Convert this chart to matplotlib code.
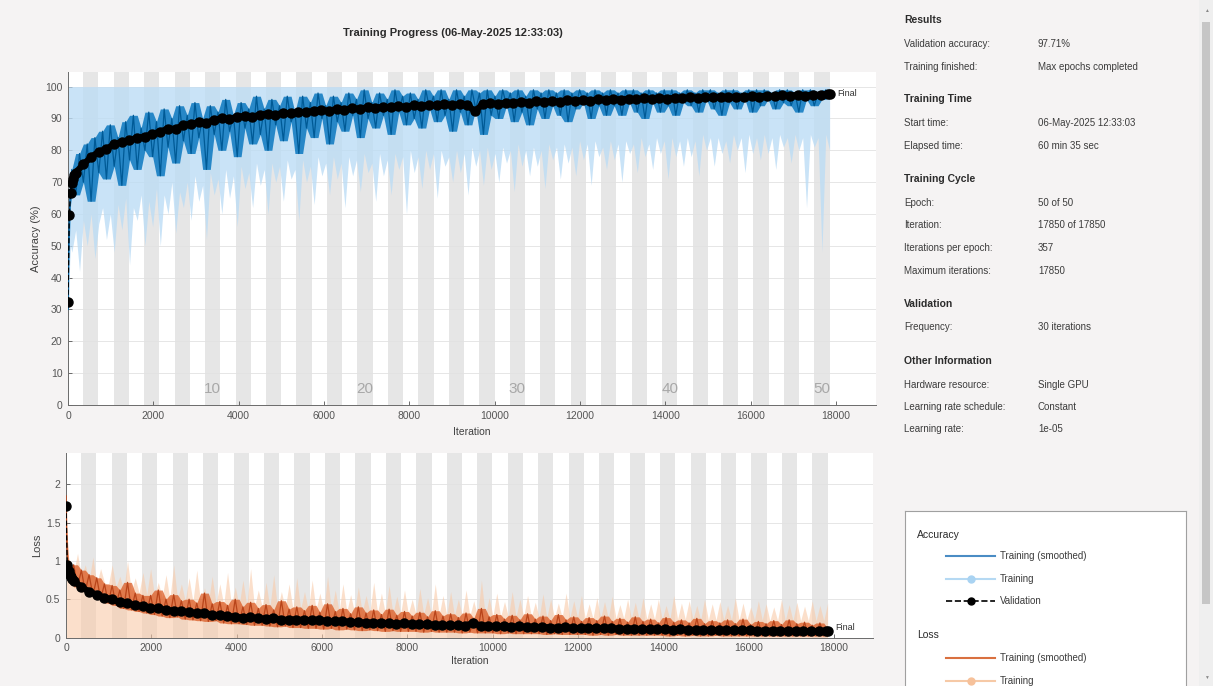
import numpy as np
import matplotlib
matplotlib.use("Agg")
import matplotlib.pyplot as plt
import matplotlib.transforms as mtransforms
from matplotlib.patches import Rectangle

plt.rcParams['font.family'] = ['Liberation Sans', 'DejaVu Sans']

W, H = 1213, 686
ITERS_PER_EPOCH = 357
NUM_EPOCHS = 50
MAX_ITER = 17850

# ---------------------------------------------------------------- data
# first few logged iterations (kept individually, the curves move fast here)
early_iter = [1, 10, 20, 40, 60]

# training accuracy (smoothed), iterations 90 .. 17850
acc_smooth_early = [30, 45, 55, 63, 68]
acc_smooth = [
    74, 66, 79, 70, 82, 64, 84, 73, 86, 71,
    88, 75, 84, 69, 89, 77, 91, 74, 87, 80,
    92, 78, 89, 72, 93, 81, 90, 76, 94, 83,
    91, 79, 95, 84, 90, 74, 94, 85, 92, 80,
    96, 86, 91, 78, 95, 87, 93, 82, 97, 85,
    93, 80, 96, 88, 94, 83, 97, 89, 92, 79,
    97, 87, 95, 84, 98, 90, 94, 82, 97, 89,
    95, 86, 98, 91, 96, 84, 99, 90, 95, 87,
    98, 91, 96, 85, 99, 92, 97, 88, 98, 90,
    96, 87, 99, 93, 97, 89, 99, 91, 96, 86,
    99, 92, 97, 88, 99, 93, 98, 85, 99, 91,
    97, 90, 99, 94, 98, 89, 99, 92, 97, 88,
    99, 93, 98, 90, 99, 94, 98, 91, 99, 89,
    98, 93, 99, 95, 98, 90, 99, 94, 98, 91,
    99, 94, 98, 91, 99, 95, 99, 92, 98, 90,
    99, 95, 98, 92, 99, 94, 99, 91, 98, 95,
    99, 94, 98, 92, 99, 96, 99, 93, 98, 91,
    99, 95, 99, 93, 98, 96, 99, 92, 99, 94,
    99, 96, 98, 93, 99, 95, 99, 94, 98, 92,
    99, 96, 99, 94, 98, 96, 99, 97,
]

# training accuracy (per mini-batch): lower edge of the band, top is 100 %
acc_raw_early = [10, 25, 35, 45, 50]
acc_raw_low = [
    48, 55, 42, 58, 50, 60, 46, 57, 62, 52,
    60, 48, 63, 55, 65, 44, 62, 58, 66, 50,
    64, 56, 68, 50, 66, 60, 70, 54, 67, 62,
    70, 58, 72, 64, 69, 52, 73, 66, 71, 60,
    74, 65, 72, 56, 75, 68, 73, 62, 76, 69,
    74, 60, 76, 70, 75, 64, 77, 71, 74, 58,
    77, 70, 75, 63, 78, 72, 76, 66, 78, 71,
    76, 62, 78, 72, 77, 67, 79, 73, 76, 64,
    79, 72, 77, 66, 79, 74, 78, 60, 80, 73,
    78, 68, 80, 74, 79, 65, 80, 75, 78, 70,
    80, 73, 79, 66, 81, 75, 80, 69, 81, 74,
    79, 70, 81, 76, 80, 67, 82, 75, 80, 72,
    81, 75, 80, 68, 82, 77, 81, 71, 82, 76,
    81, 72, 83, 77, 82, 69, 83, 78, 81, 74,
    83, 77, 82, 70, 83, 79, 82, 73, 84, 78,
    82, 74, 84, 79, 83, 71, 84, 78, 83, 75,
    84, 78, 83, 72, 85, 80, 84, 75, 84, 79,
    83, 76, 85, 80, 84, 73, 85, 79, 84, 77,
    85, 79, 84, 74, 85, 81, 84, 76, 85, 80,
    84, 62, 85, 81, 84, 48, 85, 80,
]

# validation accuracy
val_iter_early = [0, 30, 60, 90, 120, 150]
val_acc_early = [32.3, 59.8, 66.5, 69.8, 71.0, 72.2]
VAL_STEP = 180
val_acc = [
    73.0, 75.6, 77.8, 79.6, 80.4, 81.9, 82.6, 83.1, 84.0, 84.3,
    85.2, 85.8, 86.8, 86.7, 87.9, 88.3, 88.8, 88.5, 89.6, 90.0,
    89.8, 90.5, 90.8, 90.5, 91.2, 91.5, 91.1, 91.8, 91.6, 92.1,
    91.9, 92.4, 92.7, 92.3, 93.0, 92.8, 93.2, 93.0, 93.5, 93.3,
    93.7, 93.5, 93.9, 93.6, 94.1, 93.9, 94.3, 94.1, 94.5, 94.2,
    94.5, 94.3, 92.2, 94.6, 94.8, 94.5, 95.0, 94.8, 95.2, 95.0,
    95.4, 95.1, 95.5, 95.3, 95.7, 95.5, 95.8, 95.6, 96.0, 95.8,
    96.1, 95.9, 96.2, 96.0, 96.3, 96.1, 96.4, 96.2, 96.5, 96.3,
    96.6, 96.4, 96.7, 96.6, 96.8, 96.6, 96.9, 96.8, 97.0, 96.9,
    97.1, 97.0, 97.3, 97.1, 97.4, 97.2, 97.5, 97.4, 97.6,
]
final_val_acc = 97.71

# training loss (smoothed)
loss_smooth_early = [1.85, 1.45, 1.2, 1.0, 0.92]
loss_smooth = [
    0.78, 0.95, 0.66, 0.88, 0.60, 0.82, 0.55, 0.78, 0.50, 0.70,
    0.45, 0.68, 0.42, 0.62, 0.38, 0.72, 0.36, 0.58, 0.34, 0.55,
    0.32, 0.55, 0.30, 0.62, 0.28, 0.50, 0.26, 0.56, 0.27, 0.48,
    0.24, 0.50, 0.23, 0.45, 0.22, 0.58, 0.21, 0.44, 0.22, 0.47,
    0.19, 0.42, 0.18, 0.50, 0.18, 0.40, 0.17, 0.46, 0.16, 0.38,
    0.16, 0.43, 0.15, 0.36, 0.14, 0.48, 0.15, 0.37, 0.13, 0.40,
    0.13, 0.35, 0.12, 0.42, 0.12, 0.33, 0.11, 0.44, 0.12, 0.34,
    0.10, 0.38, 0.11, 0.31, 0.10, 0.40, 0.09, 0.32, 0.10, 0.36,
    0.09, 0.30, 0.08, 0.37, 0.09, 0.29, 0.08, 0.34, 0.08, 0.28,
    0.08, 0.33, 0.07, 0.27, 0.08, 0.35, 0.07, 0.28, 0.07, 0.31,
    0.07, 0.26, 0.06, 0.32, 0.07, 0.25, 0.06, 0.38, 0.06, 0.27,
    0.06, 0.30, 0.05, 0.24, 0.06, 0.29, 0.05, 0.23, 0.05, 0.31,
    0.05, 0.24, 0.05, 0.28, 0.04, 0.22, 0.05, 0.30, 0.04, 0.23,
    0.04, 0.27, 0.04, 0.21, 0.04, 0.26, 0.03, 0.22, 0.04, 0.28,
    0.03, 0.21, 0.04, 0.25, 0.03, 0.20, 0.03, 0.27, 0.03, 0.21,
    0.03, 0.24, 0.03, 0.19, 0.03, 0.26, 0.02, 0.20, 0.03, 0.23,
    0.02, 0.19, 0.03, 0.25, 0.02, 0.18, 0.02, 0.22, 0.03, 0.19,
    0.02, 0.23, 0.02, 0.18, 0.02, 0.24, 0.02, 0.17, 0.02, 0.21,
    0.02, 0.18, 0.02, 0.22, 0.02, 0.17, 0.02, 0.23, 0.02, 0.18,
    0.02, 0.20, 0.02, 0.16, 0.02, 0.19, 0.02, 0.12,
]

# training loss (per mini-batch): upper edge of the band, bottom is 0
loss_raw_early = [2.0, 1.6, 1.3, 1.15, 1.05]
loss_raw_high = [
    1.0, 0.85, 1.1, 0.8, 0.95, 0.75, 1.05, 0.7, 0.9, 0.72,
    0.68, 0.95, 0.66, 0.8, 0.62, 1.0, 0.6, 0.78, 0.58, 0.85,
    0.56, 0.9, 0.55, 0.72, 0.52, 0.82, 0.5, 0.95, 0.5, 0.7,
    0.48, 0.78, 0.47, 0.88, 0.46, 0.65, 0.45, 0.8, 0.44, 0.7,
    0.43, 0.85, 0.42, 0.66, 0.42, 0.75, 0.41, 0.9, 0.4, 0.62,
    0.4, 0.72, 0.39, 0.82, 0.38, 0.6, 0.38, 0.7, 0.37, 0.78,
    0.37, 0.6, 0.36, 0.75, 0.36, 0.58, 0.35, 0.8, 0.35, 0.62,
    0.34, 0.7, 0.34, 0.56, 0.33, 0.66, 0.33, 0.55, 0.33, 0.72,
    0.32, 0.58, 0.32, 0.68, 0.31, 0.54, 0.31, 0.62, 0.31, 0.5,
    0.3, 0.64, 0.3, 0.52, 0.3, 0.7, 0.29, 0.55, 0.29, 0.6,
    0.29, 0.5, 0.29, 0.62, 0.28, 0.48, 0.28, 0.75, 0.28, 0.52,
    0.28, 0.58, 0.27, 0.47, 0.27, 0.6, 0.27, 0.5, 0.27, 0.55,
    0.27, 0.46, 0.26, 0.57, 0.26, 0.5, 0.26, 0.45, 0.26, 0.58,
    0.26, 0.48, 0.26, 0.55, 0.25, 0.44, 0.25, 0.52, 0.25, 0.47,
    0.25, 0.54, 0.25, 0.43, 0.25, 0.5, 0.25, 0.46, 0.24, 0.52,
    0.24, 0.44, 0.24, 0.5, 0.24, 0.42, 0.24, 0.55, 0.24, 0.45,
    0.24, 0.48, 0.24, 0.42, 0.23, 0.5, 0.23, 0.44, 0.23, 0.47,
    0.23, 0.42, 0.23, 0.52, 0.23, 0.45, 0.23, 0.4, 0.23, 0.48,
    0.23, 0.44, 0.22, 0.4, 0.22, 0.5, 0.22, 0.43, 0.22, 0.46,
    0.22, 0.41, 0.22, 0.48, 0.22, 0.42, 0.22, 0.45,
]

# validation loss
val_loss_early = [1.72, 0.95, 0.87, 0.82, 0.79, 0.76]
val_loss = [
    0.74, 0.66, 0.60, 0.56, 0.52, 0.50, 0.46, 0.45, 0.42, 0.41,
    0.39, 0.38, 0.36, 0.35, 0.34, 0.33, 0.32, 0.32, 0.30, 0.29,
    0.28, 0.27, 0.26, 0.265, 0.25, 0.245, 0.25, 0.235, 0.23, 0.235,
    0.23, 0.225, 0.23, 0.215, 0.21, 0.215, 0.20, 0.20, 0.195, 0.19,
    0.195, 0.185, 0.18, 0.185, 0.175, 0.17, 0.175, 0.165, 0.16, 0.165,
    0.16, 0.155, 0.19, 0.155, 0.15, 0.152, 0.145, 0.14, 0.145, 0.14,
    0.135, 0.138, 0.13, 0.128, 0.132, 0.125, 0.122, 0.126, 0.12, 0.118,
    0.12, 0.114, 0.112, 0.115, 0.11, 0.108, 0.11, 0.105, 0.103, 0.106,
    0.10, 0.099, 0.101, 0.097, 0.095, 0.097, 0.093, 0.092, 0.094, 0.09,
    0.088, 0.09, 0.087, 0.085, 0.087, 0.084, 0.082, 0.083, 0.08,
]
final_val_loss = 0.079

epoch_labels = [10, 20, 30, 40, 50]

info_sections = [
    ("Results", [("Validation accuracy:", f"{final_val_acc:.2f}%"),
                 ("Training finished:", "Max epochs completed")]),
    ("Training Time", [("Start time:", "06-May-2025 12:33:03"),
                       ("Elapsed time:", "60 min 35 sec")]),
    ("Training Cycle", [("Epoch:", "50 of 50"),
                        ("Iteration:", "17850 of 17850"),
                        ("Iterations per epoch:", "357"),
                        ("Maximum iterations:", "17850")]),
    ("Validation", [("Frequency:", "30 iterations")]),
    ("Other Information", [("Hardware resource:", "Single GPU"),
                           ("Learning rate schedule:", "Constant"),
                           ("Learning rate:", "1e-05")]),
]

# ---------------------------------------------------------------- styling
BG = '#f5f3f3'
BLUE = '#0072BD'
LIGHT_BLUE = '#bcdcf5'
ORANGE = '#D95319'
LIGHT_ORANGE = '#f9cba9'
BAND = '#e6e6e6'
TICK = '#555555'


def series_x(early, main):
    return np.concatenate([early, np.linspace(90, MAX_ITER, len(main))])


def val_x(early, main):
    return np.concatenate([early, VAL_STEP * (1 + np.arange(len(main))), [MAX_ITER]])


def local_range(values):
    """running min / max over three neighbouring samples"""
    v = np.asarray(values, dtype=float)
    p = np.pad(v, 1, mode='edge')
    stack = np.vstack([p[:-2], p[1:-1], p[2:]])
    return stack.min(axis=0), stack.max(axis=0)


def frac(x0, y0, x1, y1):
    """pixel box (left, top, right, bottom) -> figure fraction rect"""
    return [x0 / W, 1 - y1 / H, (x1 - x0) / W, (y1 - y0) / H]


fig = plt.figure(figsize=(W / 100, H / 100), dpi=100, facecolor=BG)


def style_axes(ax, ymax, yticks, yticklabels, xmax):
    ax.set_facecolor('white')
    ax.set_xlim(0, xmax)
    ax.set_ylim(0, ymax)
    for ep in range(2, NUM_EPOCHS + 1, 2):
        ax.axvspan((ep - 1) * ITERS_PER_EPOCH, ep * ITERS_PER_EPOCH,
                   color=BAND, lw=0, zorder=0)
    ax.set_yticks(yticks)
    ax.set_yticklabels(yticklabels)
    ax.set_xticks(range(0, 18001, 2000))
    ax.grid(axis='y', color='#e2e2e2', lw=0.6, zorder=0.5)
    ax.set_axisbelow(True)
    for s in ('top', 'right'):
        ax.spines[s].set_visible(False)
    for s in ('left', 'bottom'):
        ax.spines[s].set_color('#6a6a6a')
        ax.spines[s].set_linewidth(0.7)
    ax.tick_params(direction='in', length=3, width=0.6, colors=TICK,
                   labelsize=7.5, pad=4)


def draw_validation(ax, xv, yv):
    # dense validation record: a heavy trace under closely spaced markers
    body = xv >= 150
    ax.plot(xv[body], yv[body], color='black', lw=4.5, solid_capstyle='round',
            zorder=4)
    ax.plot(xv, yv, color='black', ls='--', lw=1.0, marker='o', ms=6.5,
            mfc='black', mec='black', zorder=4)


# ---------------------------------------------------------------- accuracy
ax1 = fig.add_axes(frac(68, 72, 876, 405))
style_axes(ax1, 104.6, range(0, 101, 10), [str(v) for v in range(0, 101, 10)],
           18937)

xr = series_x(early_iter, acc_raw_low)
ax1.fill_between(xr, np.concatenate([acc_raw_early, acc_raw_low]), 100,
                 color=LIGHT_BLUE, alpha=0.8, lw=0, zorder=2)
xs = series_x(early_iter, acc_smooth)
ys = np.concatenate([acc_smooth_early, acc_smooth])
lo, hi = local_range(ys)
ax1.fill_between(xs, lo, hi, color=BLUE, alpha=0.8, lw=0, zorder=3)
ax1.plot(xs, ys, color='#005a96', lw=0.9, zorder=3)
xv = val_x(val_iter_early, val_acc)
draw_validation(ax1, xv, np.concatenate([val_acc_early, val_acc, [final_val_acc]]))
ax1.text(MAX_ITER + 180, final_val_acc, 'Final', fontsize=6.5,
         color='#333333', va='center', ha='left', zorder=5)

trans1 = mtransforms.blended_transform_factory(ax1.transData, ax1.transAxes)
for ep in epoch_labels:
    ax1.text((ep - 0.5) * ITERS_PER_EPOCH, 0.047, str(ep), transform=trans1,
             ha='center', va='center', fontsize=11, color='#a8a8a8', zorder=5)

ax1.set_ylabel('Accuracy (%)', fontsize=8, color='#404040')
ax1.yaxis.set_label_coords(-0.033, 0.5)
ax1.set_xlabel('Iteration', fontsize=7.5, color='#404040')
ax1.xaxis.set_label_coords(0.5, -0.066)

# ---------------------------------------------------------------- loss
ax2 = fig.add_axes(frac(66, 453, 873, 637.5))
style_axes(ax2, 2.41, [0, 0.5, 1, 1.5, 2], ['0', '0.5', '1', '1.5', '2'], 18914)

xr = series_x(early_iter, loss_raw_high)
ax2.fill_between(xr, 0, np.concatenate([loss_raw_early, loss_raw_high]),
                 color=LIGHT_ORANGE, alpha=0.6, lw=0, zorder=2)
xs = series_x(early_iter, loss_smooth)
ys = np.concatenate([loss_smooth_early, loss_smooth])
lo, hi = local_range(ys)
ax2.fill_between(xs, lo, hi, color=ORANGE, alpha=0.7, lw=0, zorder=3)
ax2.plot(xs, ys, color='#b8441a', lw=0.9, zorder=3)
xv = val_x(val_iter_early, val_loss)
draw_validation(ax2, xv, np.concatenate([val_loss_early, val_loss, [final_val_loss]]))
ax2.text(MAX_ITER + 180, final_val_loss + 0.05, 'Final', fontsize=6.5,
         color='#333333', va='center', ha='left', zorder=5)

ax2.set_ylabel('Loss', fontsize=8, color='#404040')
ax2.yaxis.set_label_coords(-0.030, 0.5)
ax2.set_xlabel('Iteration', fontsize=7.5, color='#404040')
ax2.xaxis.set_label_coords(0.5, -0.10)

# ---------------------------------------------------------------- title
fig.text(453 / W, 1 - 33 / H, 'Training Progress (06-May-2025 12:33:03)',
         ha='center', va='center', fontsize=8, fontweight='bold',
         color='#2b2b2b')

# ---------------------------------------------------------------- info panel
y = 20
for header, rows in info_sections:
    fig.text(904 / W, 1 - y / H, header, ha='left', va='center',
             fontsize=7.5, fontweight='bold', color='#2b2b2b')
    y += 24
    for label, value in rows:
        fig.text(904 / W, 1 - y / H, label, ha='left', va='center',
                 fontsize=7, color='#3c3c3c')
        fig.text(1038 / W, 1 - y / H, value, ha='left', va='center',
                 fontsize=7, color='#3c3c3c')
        y += 22.5
    y += 33 - 22.5

# ---------------------------------------------------------------- legend box
lg = fig.add_axes(frac(905, 511, 1186, 686))
lg.set_xlim(905, 1186)
lg.set_ylim(686, 511)
lg.set_facecolor('white')
lg.set_xticks([])
lg.set_yticks([])
for s in ('top', 'left', 'right'):
    lg.spines[s].set_color('#a0a0a0')
    lg.spines[s].set_linewidth(0.8)
lg.spines['bottom'].set_visible(False)

lg.text(917, 535, 'Accuracy', fontsize=7.5, color='#2b2b2b', va='center')
lg.text(917, 635, 'Loss', fontsize=7.5, color='#2b2b2b', va='center')
legend_rows = [
    (556, dict(color='#4a8cc4', lw=1.5), 'Training (smoothed)', None),
    (579, dict(color='#b5d9f3', lw=1.5), 'Training', '#a9d3f2'),
    (601, dict(color='black', lw=1.2, ls='--'), 'Validation', 'black'),
    (658, dict(color='#d9703f', lw=1.5), 'Training (smoothed)', None),
    (681, dict(color='#f6c9a6', lw=1.5), 'Training', '#f6c19a'),
]
for yy, style, label, mcol in legend_rows:
    lg.plot([946, 995], [yy, yy], **style)
    if mcol is not None:
        lg.plot([970.5], [yy], marker='o', ms=5, color=mcol, ls='none')
    lg.text(1000, yy, label, fontsize=7, color='#3c3c3c', va='center')

# ---------------------------------------------------------------- scrollbar
sb = fig.add_axes(frac(1199, 0, 1213, 686))
sb.set_xlim(1199, 1213)
sb.set_ylim(686, 0)
sb.axis('off')
sb.add_patch(Rectangle((1199, 0), 14, 686, color='#efefef', lw=0))
sb.add_patch(Rectangle((1202, 22), 8, 582, color='#c6c6c6', lw=0))
sb.text(1206, 10, '\u25b2', fontsize=3.5, color='#888888', ha='center', va='center')
sb.text(1206, 677, '\u25bc', fontsize=3.5, color='#888888', ha='center', va='center')

fig.savefig('out.png', dpi=100, facecolor=BG)
